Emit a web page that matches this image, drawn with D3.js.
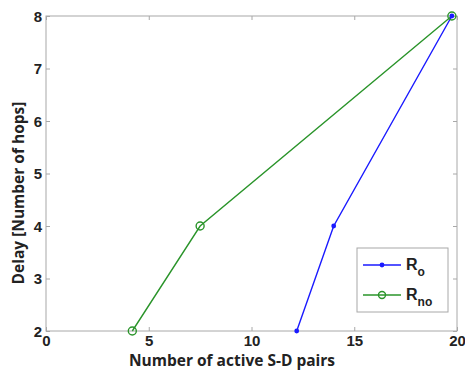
<!DOCTYPE html>
<html>
<head>
<meta charset="utf-8">
<script src="https://cdn.jsdelivr.net/npm/d3@7"></script>
<style>
  body { margin: 0; background: #fff; }
  svg { display: block; }
  .tick text { font-family: Arial, "Liberation Sans", sans-serif; font-weight: bold; font-size: 15px; fill: #222; }
  .title { font-family: "Open Sans", "DejaVu Sans", sans-serif; font-weight: bold; font-size: 15.5px; fill: #222; }
  .leg { font-family: Arial, "Liberation Sans", sans-serif; font-weight: bold; font-size: 16px; fill: #222; }
</style>
</head>
<body>
<svg id="chart" width="465" height="372"></svg>
<script>
// values
const xTicks = [0, 5, 10, 15, 20];
const yTicks = [2, 3, 4, 5, 6, 7, 8];
const roX = [12.2, 14.0, 19.75];
const roY = [2, 4, 8];
const rnoX = [4.2, 7.5, 19.75];
const rnoY = [2, 4, 8];

const BLUE = "#1a1aff";
const GREEN = "#2a942a";
const BOX = "#a8a8a8";

const svg = d3.select("#chart");
const M = { left: 46, right: 8, top: 16, bottom: 41 };
const W = 465, H = 372;

const x = d3.scaleLinear().domain([0, 20]).range([M.left, W - M.right]);
const y = d3.scaleLinear().domain([2, 8]).range([H - M.bottom, M.top]);

// box
svg.append("rect")
  .attr("x", x(0)).attr("y", y(8))
  .attr("width", x(20) - x(0)).attr("height", y(2) - y(8))
  .attr("fill", "none").attr("stroke", BOX).attr("stroke-width", 1);

// axes (inward ticks like MATLAB)
const tl = 4;
const gx = svg.append("g").attr("transform", `translate(0,${y(2)})`)
  .call(d3.axisBottom(x).tickValues(xTicks).tickSize(-tl).tickPadding(7));
const gy = svg.append("g").attr("transform", `translate(${x(0)},0)`)
  .call(d3.axisLeft(y).tickValues(yTicks).tickFormat(d3.format("d")).tickSize(-tl).tickPadding(4));
svg.append("g").attr("transform", `translate(0,${y(8)})`)
  .call(d3.axisTop(x).tickValues(xTicks).tickSize(-tl).tickFormat(""));
svg.append("g").attr("transform", `translate(${x(20)},0)`)
  .call(d3.axisRight(y).tickValues(yTicks).tickSize(-tl).tickFormat(""));
svg.selectAll(".domain").remove();
svg.selectAll(".tick line").attr("stroke", BOX);
gx.selectAll(".tick text").attr("dy", "0.55em");
gy.selectAll(".tick text").attr("dy", "0.36em");

// axis titles
svg.append("text").attr("class", "title")
  .attr("x", 232).attr("y", 366).attr("text-anchor", "middle")
  .text("Number of active S-D pairs");
svg.append("text").attr("class", "title")
  .attr("transform", `translate(24,${193}) rotate(-90)`)
  .attr("text-anchor", "middle")
  .text("Delay [Number of hops]");

// series
const line = d3.line().x(d => x(d[0])).y(d => y(d[1]));
const ro = roX.map((v, i) => [v, roY[i]]);
const rno = rnoX.map((v, i) => [v, rnoY[i]]);

svg.append("path").datum(rno).attr("d", line)
  .attr("fill", "none").attr("stroke", GREEN).attr("stroke-width", 1.4);
svg.append("path").datum(ro).attr("d", line)
  .attr("fill", "none").attr("stroke", BLUE).attr("stroke-width", 1.4);

svg.selectAll("circle.ro").data(ro).join("circle").attr("class", "ro")
  .attr("cx", d => x(d[0])).attr("cy", d => y(d[1])).attr("r", 2.4)
  .attr("fill", BLUE);
svg.selectAll("circle.rno").data(rno).join("circle").attr("class", "rno")
  .attr("cx", d => x(d[0])).attr("cy", d => y(d[1])).attr("r", 4)
  .attr("fill", "none").attr("stroke", GREEN).attr("stroke-width", 1.4);

// legend
const lg = svg.append("g");
lg.append("rect").attr("x", 357).attr("y", 248).attr("width", 91).attr("height", 64)
  .attr("fill", "#fff").attr("stroke", BOX);
const items = [
  { sub: "o", color: BLUE, mark: "dot", ly: 265 },
  { sub: "no", color: GREEN, mark: "circle", ly: 295 }
];
items.forEach(it => {
  lg.append("line").attr("x1", 363).attr("x2", 401).attr("y1", it.ly).attr("y2", it.ly)
    .attr("stroke", it.color).attr("stroke-width", 1.4);
  if (it.mark === "dot") {
    lg.append("circle").attr("cx", 382).attr("cy", it.ly).attr("r", 2.4).attr("fill", it.color);
  } else {
    lg.append("circle").attr("cx", 382).attr("cy", it.ly).attr("r", 3.5)
      .attr("fill", "none").attr("stroke", it.color).attr("stroke-width", 1.4);
  }
  const t = lg.append("text").attr("class", "leg").attr("x", 406).attr("y", it.ly + 5);
  t.append("tspan").text("R");
  t.append("tspan").attr("dy", 6).attr("font-size", 12).text(it.sub);
});
</script>
</body>
</html>
